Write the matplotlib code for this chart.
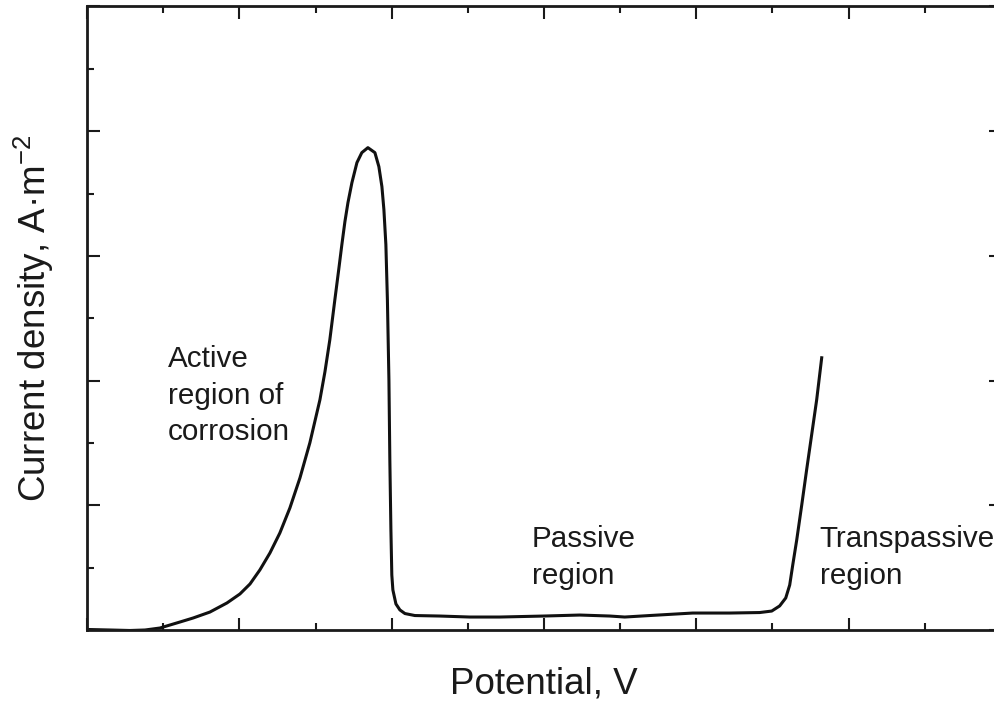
import matplotlib
matplotlib.use("Agg")
import matplotlib.pyplot as plt
from matplotlib.ticker import MultipleLocator

plt.rcParams['font.family'] = ['Liberation Sans', 'DejaVu Sans']
plt.rcParams['mathtext.fontset'] = 'custom'
plt.rcParams['mathtext.rm'] = 'Liberation Sans'
plt.rcParams['mathtext.it'] = 'Liberation Sans:italic'

# polarisation curve (arbitrary units)
potential = [0.007, 0.151, 0.282, 0.381, 0.479, 0.610, 0.696, 0.807, 0.919, 1.004,
             1.070, 1.135, 1.201, 1.266, 1.332, 1.398, 1.463, 1.529, 1.562, 1.594,
             1.627, 1.654, 1.673, 1.693, 1.713, 1.739, 1.772, 1.804, 1.844, 1.890,
             1.916, 1.936, 1.949, 1.962, 1.972, 1.982, 1.988, 1.995, 2.001, 2.008,
             2.028, 2.054, 2.087, 2.152, 2.316, 2.513, 2.710, 2.999, 3.235, 3.432,
             3.530, 3.694, 3.976, 4.219, 4.416, 4.495, 4.547, 4.587, 4.613, 4.633,
             4.659, 4.692, 4.724, 4.757, 4.790, 4.823]
current = [0.004, 0.000, -0.004, 0.000, 0.016, 0.064, 0.096, 0.144, 0.217, 0.289,
           0.369, 0.482, 0.618, 0.778, 0.979, 1.220, 1.501, 1.846, 2.071, 2.327,
           2.648, 2.905, 3.090, 3.274, 3.427, 3.587, 3.748, 3.828, 3.868, 3.828,
           3.716, 3.555, 3.371, 3.090, 2.648, 2.006, 1.364, 0.803, 0.441, 0.321,
           0.209, 0.161, 0.132, 0.116, 0.112, 0.104, 0.104, 0.112, 0.120, 0.112,
           0.104, 0.116, 0.136, 0.136, 0.140, 0.152, 0.193, 0.257, 0.361, 0.522,
           0.722, 1.003, 1.284, 1.565, 1.846, 2.183]

region_labels = ["Active\nregion of\ncorrosion", "Passive\nregion", "Transpassive\nregion"]
label_x = [0.531, 2.920, 4.810]
label_y = [2.287, 0.843, 0.843]

ink = '#1a1a1a'

fig = plt.figure(figsize=(9.94, 7.01), dpi=100)
ax = fig.add_axes([87 / 994, 71 / 701, 914 / 994, 623.5 / 701])

ax.plot(potential, current, color='#111111', lw=2.2, solid_joinstyle='round')

for txt, x, y in zip(region_labels, label_x, label_y):
    ax.text(x, y, txt, fontsize=21.3, color=ink, ha='left', va='top', linespacing=1.4)

ax.set_xlim(0, 6)
ax.set_ylim(0, 5)
ax.xaxis.set_major_locator(MultipleLocator(1))
ax.xaxis.set_minor_locator(MultipleLocator(0.5))
ax.yaxis.set_major_locator(MultipleLocator(1))
ax.yaxis.set_minor_locator(MultipleLocator(0.5))
ax.tick_params(which='both', direction='in', top=True, right=True,
               labelbottom=False, labelleft=False, color=ink, width=1.5)
ax.tick_params(which='major', length=9)
ax.tick_params(which='minor', length=5)
for s in ax.spines.values():
    s.set_linewidth(2)
    s.set_color(ink)

ax.set_xlabel("Potential, V", fontsize=26.5, color=ink, labelpad=26)
ax.set_ylabel("Current density, A\u00b7m$^{\u22122}$", fontsize=26.5, color=ink, labelpad=22)

fig.savefig("out.png", dpi=100)
